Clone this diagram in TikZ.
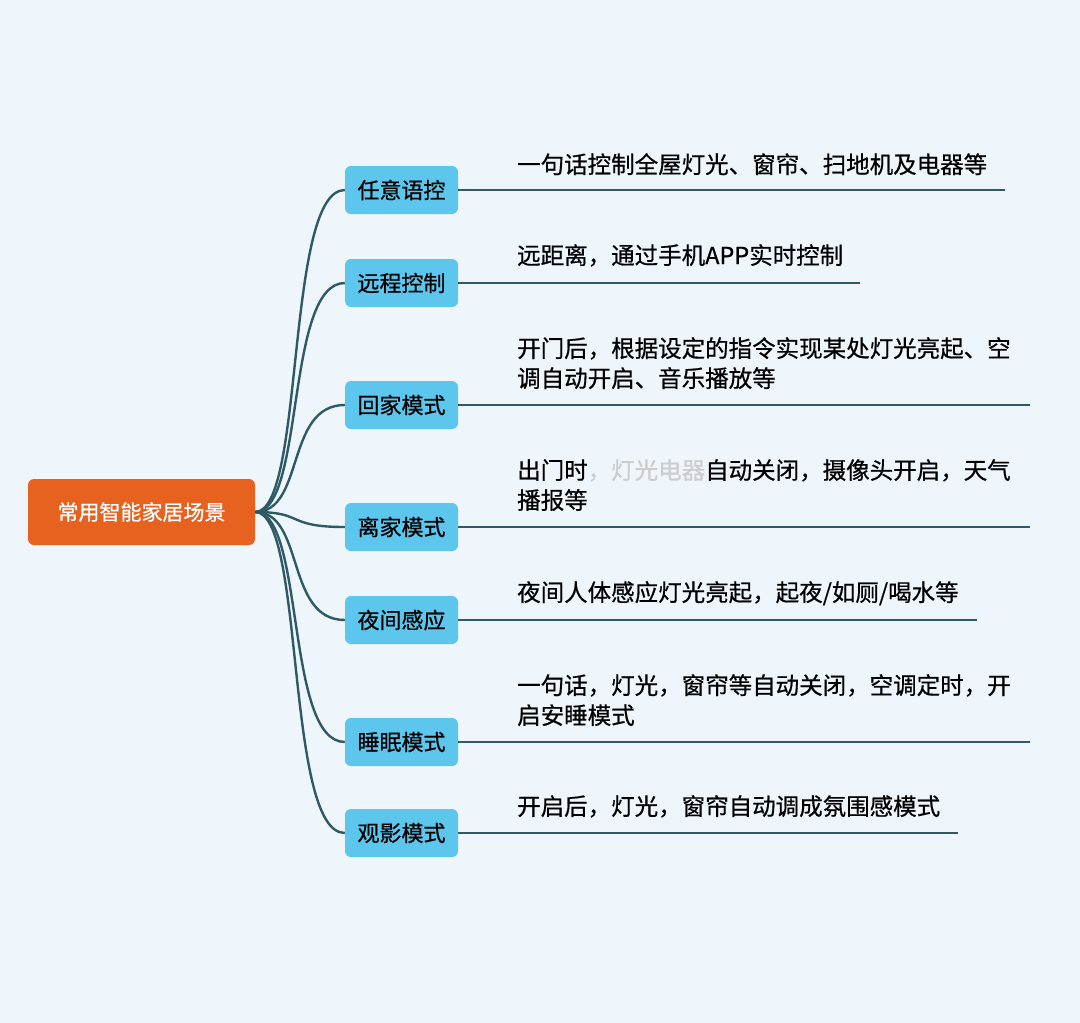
\documentclass[tikz,border=0pt]{standalone}
\usepackage{fontspec}
\newfontfamily\cjk[FakeBold=0.6]{Noto Sans CJK SC}
\definecolor{bg}{HTML}{EEF5FB}
\definecolor{rootc}{HTML}{E8621F}
\definecolor{boxc}{HTML}{5CC6EC}
\definecolor{linec}{HTML}{2E5A66}
\tikzset{
 rootbox/.style={draw=none,fill=rootc,rounded corners=6pt,text=white,font=\cjk\fontsize{21}{25}\selectfont,minimum width=227pt,minimum height=66pt,inner sep=0pt},
 leaf/.style={fill=boxc,rounded corners=6pt,font=\cjk\fontsize{22}{25}\selectfont,minimum width=113pt,minimum height=48pt,inner sep=0pt},
 conn/.style={draw=linec,line width=2.4pt},
 desc/.style={anchor=north west,font=\cjk\fontsize{23.5}{30}\selectfont,align=left,inner sep=0pt}
}
\begin{document}
\begin{tikzpicture}[x=1pt,y=-1pt]
\fill[bg] (0,0) rectangle (1080,1023);
\useasboundingbox (0,0) rectangle (1080,1023);
\node[rootbox] (root) at (141.5,512) {常用智能家居场景};
\foreach \n/\t/\y/\e in {a/任意语控/190/1005,b/远程控制/283/860,c/回家模式/405/1030,d/离家模式/527/1030,e/夜间感应/620/977,f/睡眠模式/742/1030,g/观影模式/833/958}{
  \node[leaf] (\n) at (401.5,\y) {\t};
  \coordinate (\n end) at (\e,\y);
  \draw[conn] (root.east) .. controls (305,512) and (285,\y) .. (\n.west);
  \draw[conn] (\n.east) -- (\n end);
}
\node[desc] (ta) at (517,153) {一句话控制全屋灯光、窗帘、扫地机及电器等};
\node[desc] (tb) at (517,244) {远距离，通过手机APP实时控制};
\node[desc] (tc) at (517,337) {开门后，根据设定的指令实现某处灯光亮起、空\\调自动开启、音乐播放等};
\node[desc] (td) at (517,459) {出门时{\color{gray!40}，灯光电器}自动关闭，摄像头开启，天气\\播报等};
\node[desc] (te) at (517,581) {夜间人体感应灯光亮起，起夜/如厕/喝水等};
\node[desc] (tf) at (517,674) {一句话，灯光，窗帘等自动关闭，空调定时，开\\启安睡模式};
\node[desc] (tg) at (517,795) {开启后，灯光，窗帘自动调成氛围感模式};
\end{tikzpicture}
\end{document}
